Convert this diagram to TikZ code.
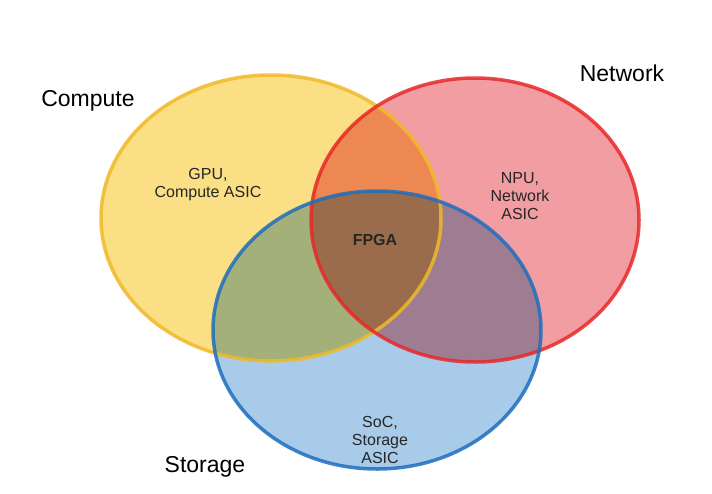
\documentclass[tikz,border=0pt]{standalone}
\usepackage{fontspec}
\setmainfont{Liberation Sans}
\begin{document}
\begin{tikzpicture}[x=1pt,y=-1pt,
  circ/.style={line width=3.5pt, draw opacity=0.85},
  big/.style={font=\fontsize{23}{25}\selectfont},
  inner/.style={font=\fontsize{16}{18}\selectfont, align=center, text=black!85}]
\useasboundingbox (0,0) rectangle (712,493);
\fill[white] (0,0) rectangle (712,493);
\begin{scope}[blend group=multiply]
\fill[fill opacity=0.9, fill={rgb,255:red,250;green,220;blue,120}] (271,218) ellipse [x radius=170, y radius=143];
\fill[fill opacity=0.85, fill={rgb,255:red,240;green,140;blue,145}] (475,220) ellipse [x radius=164, y radius=142];
\fill[fill opacity=0.8, fill={rgb,255:red,145;green,190;blue,228}] (377,330) ellipse [x radius=164, y radius=139];
\end{scope}
\draw[circ, draw={rgb,255:red,240;green,185;blue,40}] (271,218) ellipse [x radius=170, y radius=143];
\draw[circ, draw={rgb,255:red,232;green,40;blue,40}] (475,220) ellipse [x radius=164, y radius=142];
\draw[circ, draw={rgb,255:red,30;green,110;blue,190}] (377,330) ellipse [x radius=164, y radius=139];
\node[big] (compute) at (88,101) {Compute};
\node[big] (network) at (622,73) {Network};
\node[big] (storage) at (205,467) {Storage};
\node[inner] (gpu) at (208,185) {GPU,\\Compute ASIC};
\node[inner] (npu) at (520,196) {NPU,\\Network\\ASIC};
\node[inner, font=\fontsize{16}{18}\selectfont\bfseries] (fpga) at (375,240) {FPGA};
\node[inner] (soc) at (380,440) {SoC,\\Storage\\ASIC};
\end{tikzpicture}
\end{document}
